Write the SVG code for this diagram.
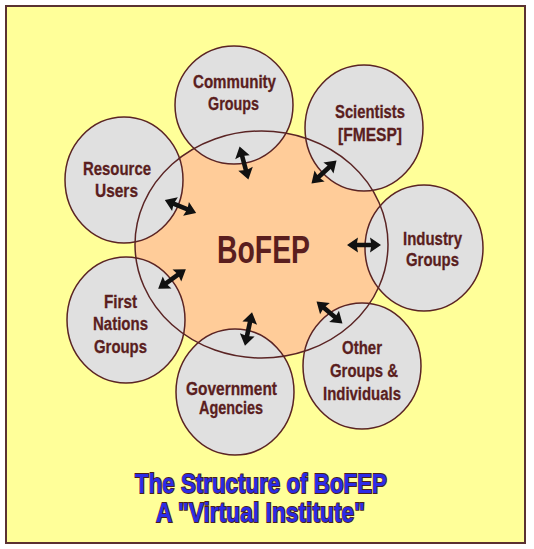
<svg xmlns="http://www.w3.org/2000/svg" width="534" height="549" viewBox="0 0 534 549">
<style>
.node ellipse{fill:#e0e0e0;stroke:#5a2424;stroke-width:1.5}
.lbl{font-family:"Liberation Sans",Arial,sans-serif;font-weight:bold;font-size:18px;fill:#5a1e1e;stroke:#5a1e1e;stroke-width:0.3}
.title{font-family:"Liberation Sans",Arial,sans-serif;font-weight:bold;font-size:28px;fill:#2b2be6;stroke:#4a1e1e;stroke-width:1.8;paint-order:stroke}
.arr{fill:#111}
</style>
<defs>
<path id="dbl" d="M-17,0 L-6,-7.5 L-7,-2.3 L7,-2.3 L6,-7.5 L17,0 L6,7.5 L7,2.3 L-7,2.3 L-6,7.5 Z"/>
</defs>
<rect x="0" y="0" width="534" height="549" fill="#ffffff"/>
<rect id="frame" x="6" y="6" width="519" height="537" fill="#ffff99" stroke="#5a3232" stroke-width="2"/>
<g id="hub-fill">
<ellipse cx="261.5" cy="244.5" rx="126.5" ry="113.5" fill="#ffcc99"/>
</g>
<g id="community" class="node">
<ellipse cx="234" cy="105" rx="59" ry="59"/>
</g>
<g id="scientists" class="node">
<ellipse cx="364" cy="128" rx="59" ry="63"/>
</g>
<g id="resource" class="node">
<ellipse cx="124" cy="180" rx="59" ry="63"/>
</g>
<g id="industry" class="node">
<ellipse cx="424" cy="248" rx="59" ry="63"/>
</g>
<g id="firstnations" class="node">
<ellipse cx="126" cy="320" rx="59" ry="63"/>
</g>
<g id="government" class="node">
<ellipse cx="235" cy="392" rx="59" ry="63"/>
</g>
<g id="other" class="node">
<ellipse cx="362" cy="366" rx="59" ry="63"/>
</g>
<g id="bofep">
<ellipse cx="261.5" cy="244.5" rx="126.5" ry="113.5" fill="none" stroke="#5a2424" stroke-width="1.5"/>
<text x="217" y="263" font-family="Liberation Sans, Arial, sans-serif" font-weight="bold" font-size="38" fill="#5a1e1e" textLength="93" lengthAdjust="spacingAndGlyphs">BoFEP</text>
</g>
<g id="connectors" class="arr">
<use href="#dbl" transform="translate(244,163) rotate(75)"/>
<use href="#dbl" transform="translate(324,172) rotate(-42.5)"/>
<use href="#dbl" transform="translate(180.5,206.5) rotate(22.8)"/>
<use href="#dbl" transform="translate(172,279) rotate(-35.5)"/>
<use href="#dbl" transform="translate(248.5,329) rotate(102)"/>
<use href="#dbl" transform="translate(364,245)"/>
<use href="#dbl" transform="translate(329.5,312.5) rotate(40.4)"/>
</g>
<g id="labels">
<text class="lbl" x="193" y="88" textLength="83" lengthAdjust="spacingAndGlyphs">Community</text>
<text class="lbl" x="208" y="110" textLength="51" lengthAdjust="spacingAndGlyphs">Groups</text>
<text class="lbl" x="335" y="118" textLength="70" lengthAdjust="spacingAndGlyphs">Scientists</text>
<text class="lbl" x="338" y="141" textLength="64" lengthAdjust="spacingAndGlyphs">[FMESP]</text>
<text class="lbl" x="83" y="175" textLength="68" lengthAdjust="spacingAndGlyphs">Resource</text>
<text class="lbl" x="95" y="197" textLength="43" lengthAdjust="spacingAndGlyphs">Users</text>
<text class="lbl" x="403" y="245" textLength="59" lengthAdjust="spacingAndGlyphs">Industry</text>
<text class="lbl" x="406" y="266" textLength="53" lengthAdjust="spacingAndGlyphs">Groups</text>
<text class="lbl" x="104" y="308" textLength="33" lengthAdjust="spacingAndGlyphs">First</text>
<text class="lbl" x="93" y="330" textLength="55" lengthAdjust="spacingAndGlyphs">Nations</text>
<text class="lbl" x="94" y="353" textLength="53" lengthAdjust="spacingAndGlyphs">Groups</text>
<text class="lbl" x="186" y="395" textLength="91" lengthAdjust="spacingAndGlyphs">Government</text>
<text class="lbl" x="199" y="414" textLength="64" lengthAdjust="spacingAndGlyphs">Agencies</text>
<text class="lbl" x="342" y="354" textLength="40" lengthAdjust="spacingAndGlyphs">Other</text>
<text class="lbl" x="330" y="377" textLength="68" lengthAdjust="spacingAndGlyphs">Groups &amp;</text>
<text class="lbl" x="323" y="400" textLength="78" lengthAdjust="spacingAndGlyphs">Individuals</text>
</g>
<g id="title">
<text class="title" x="135" y="493" textLength="252" lengthAdjust="spacingAndGlyphs">The Structure of BoFEP</text>
<text class="title" x="156" y="522" textLength="209" lengthAdjust="spacingAndGlyphs">A "Virtual Institute"</text>
</g>
</svg>
